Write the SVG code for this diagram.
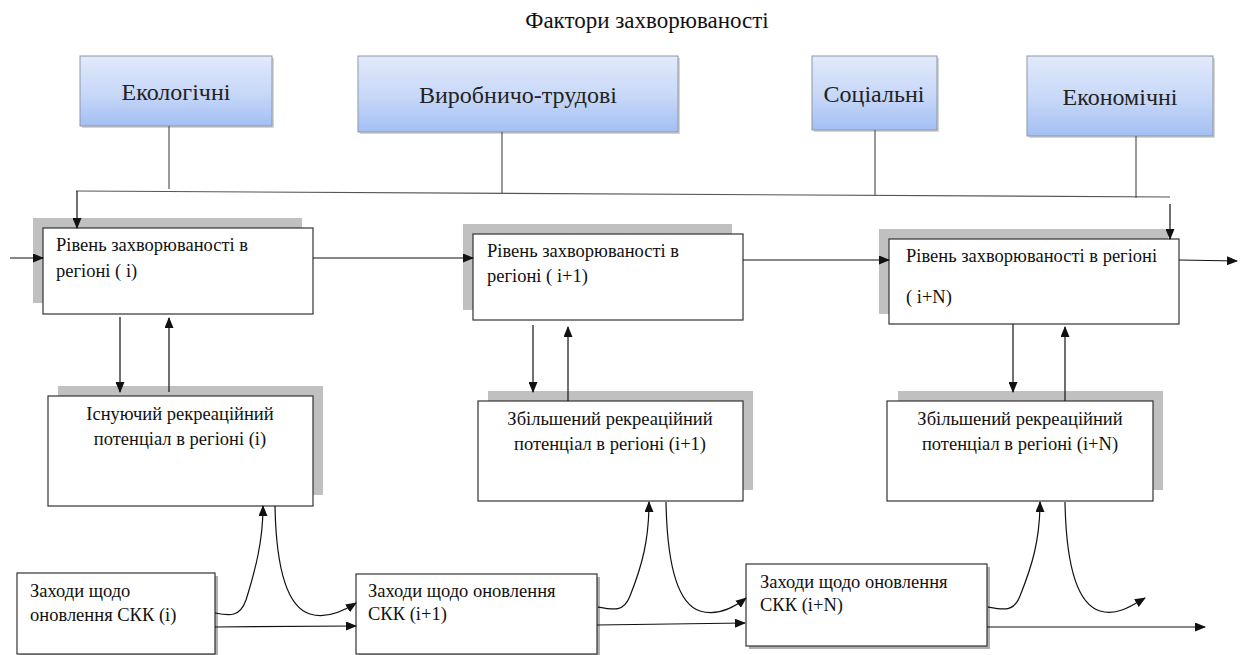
<svg xmlns="http://www.w3.org/2000/svg" width="1242" height="655" viewBox="0 0 1242 655">
  <defs>
    <linearGradient id="factorFill" x1="0" y1="0" x2="0" y2="1">
      <stop offset="0" stop-color="#e2eafb"/>
      <stop offset="0.55" stop-color="#c6d7f8"/>
      <stop offset="1" stop-color="#a3bff3"/>
    </linearGradient>
    <marker id="arrow" markerUnits="userSpaceOnUse" markerWidth="11" markerHeight="9" refX="10" refY="4.5" orient="auto">
      <path d="M0,0 L11,4.5 L0,9 z" fill="#111"/>
    </marker>
    <style>
      text { font-family: 'Liberation Serif', 'Times New Roman', 'DejaVu Serif', serif; }
      .title { font-size: 23px; fill: #111; }
      .factor rect.body { fill: url(#factorFill); stroke: #8d96a3; stroke-width: 1; }
      .factor rect.drop { fill: #b9b9b9; opacity: 0.6; }
      .factor text { font-size: 24px; fill: #222; text-anchor: middle; }
      .box { fill: #ffffff; stroke: #333; stroke-width: 1.2; }
      .shadow { fill: #c0c0c0; }
      .thin-shadow { fill: #b0b0b0; }
      .label { font-size: 18.5px; fill: #111; }
      .label.mid { text-anchor: middle; }
      .link { fill: none; stroke: #111; stroke-width: 1.2; }
      .link.arr { marker-end: url(#arrow); }
      .feed { fill: none; stroke: #555; stroke-width: 1.2; }
    </style>
  </defs>

  <rect width="1242" height="655" fill="#ffffff"/>

  <text class="title" x="647" y="28" text-anchor="middle">Фактори захворюваності</text>

  <!-- factor boxes -->
  <g id="factor-ecological" class="factor">
    <rect class="drop" x="82" y="58" width="192" height="70"/>
    <rect class="body" x="80" y="56" width="192" height="70"/>
    <text x="176" y="100">Екологічні</text>
  </g>
  <g id="factor-production" class="factor">
    <rect class="drop" x="360" y="58" width="320" height="76"/>
    <rect class="body" x="358" y="56" width="320" height="76"/>
    <text x="518" y="103">Виробничо-трудові</text>
  </g>
  <g id="factor-social" class="factor">
    <rect class="drop" x="814" y="58" width="125" height="74"/>
    <rect class="body" x="812" y="56" width="125" height="74"/>
    <text x="874" y="102">Соціальні</text>
  </g>
  <g id="factor-economic" class="factor">
    <rect class="drop" x="1029" y="58" width="186" height="80"/>
    <rect class="body" x="1027" y="56" width="186" height="80"/>
    <text x="1120" y="105">Економічні</text>
  </g>

  <!-- morbidity level per region -->
  <g id="morbidity-i">
    <rect class="shadow" x="33" y="218" width="269" height="85"/>
    <rect class="box" x="43" y="228" width="270" height="86"/>
    <text class="label" x="56" y="251">Рівень захворюваності в</text>
    <text class="label" x="56" y="277">регіоні ( і)</text>
  </g>
  <g id="morbidity-i1">
    <rect class="shadow" x="463" y="224" width="269" height="86"/>
    <rect class="box" x="473" y="234" width="270" height="86"/>
    <text class="label" x="487" y="257">Рівень захворюваності в</text>
    <text class="label" x="487" y="282">регіоні ( і+1)</text>
  </g>
  <g id="morbidity-iN">
    <rect class="shadow" x="879" y="229" width="289" height="85"/>
    <rect class="box" x="889" y="239" width="290" height="85"/>
    <text class="label" x="906" y="262">Рівень захворюваності в регіоні</text>
    <text class="label" x="906" y="303">( і+N)</text>
  </g>

  <!-- recreational potential per region -->
  <g id="potential-i">
    <rect class="shadow" x="58" y="386" width="265" height="109"/>
    <rect class="box" x="48" y="396" width="265" height="110"/>
    <text class="label mid" x="180" y="420">Існуючий рекреаційний</text>
    <text class="label mid" x="180" y="445">потенціал в регіоні (і)</text>
  </g>
  <g id="potential-i1">
    <rect class="shadow" x="488" y="391" width="265" height="99"/>
    <rect class="box" x="478" y="401" width="265" height="100"/>
    <text class="label mid" x="610" y="425">Збільшений рекреаційний</text>
    <text class="label mid" x="610" y="450">потенціал в регіоні (і+1)</text>
  </g>
  <g id="potential-iN">
    <rect class="shadow" x="898" y="391" width="265" height="99"/>
    <rect class="box" x="887" y="401" width="266" height="100"/>
    <text class="label mid" x="1020" y="425">Збільшений рекреаційний</text>
    <text class="label mid" x="1020" y="450">потенціал в регіоні (і+N)</text>
  </g>

  <!-- renewal measures -->
  <g id="measures-i">
    <rect class="thin-shadow" x="20" y="576" width="198" height="81"/>
    <rect class="box" x="17" y="573" width="198" height="81"/>
    <text class="label" x="30" y="597">Заходи щодо</text>
    <text class="label" x="30" y="621">оновлення СКК (і)</text>
  </g>
  <g id="measures-i1">
    <rect class="thin-shadow" x="359" y="577" width="241" height="80"/>
    <rect class="box" x="356" y="574" width="241" height="80"/>
    <text class="label" x="368" y="597">Заходи щодо оновлення</text>
    <text class="label" x="368" y="620">СКК (і+1)</text>
  </g>
  <g id="measures-iN">
    <rect class="thin-shadow" x="749" y="567" width="241" height="82"/>
    <rect class="box" x="746" y="564" width="241" height="82"/>
    <text class="label" x="760" y="588">Заходи щодо оновлення</text>
    <text class="label" x="760" y="611">СКК (і+N)</text>
  </g>

  <g id="connectors">
    <!-- factor bus -->
    <line class="feed" x1="169" y1="126" x2="169" y2="189"/>
    <line class="feed" x1="502" y1="132" x2="502" y2="193"/>
    <line class="feed" x1="875" y1="130" x2="875" y2="195"/>
    <line class="feed" x1="1136" y1="136" x2="1136" y2="198"/>
    <path class="feed" d="M76,191 L1170,197"/>
    <path class="link arr" d="M77,191 L77,228"/>
    <path class="link arr" d="M1170,204 L1170,239"/>

    <!-- chain of morbidity levels -->
    <path class="link arr" d="M10,258 L43,258"/>
    <path class="link arr" d="M313,258 L473,258"/>
    <path class="link arr" d="M743,260 L889,260"/>
    <path class="link arr" d="M1179,260 L1237,261"/>

    <!-- morbidity / potential exchange -->
    <path class="link arr" d="M120,317 L120,392"/>
    <path class="link arr" d="M169,392 L169,318"/>
    <path class="link arr" d="M533,325 L533,392"/>
    <path class="link arr" d="M568,401 L568,327"/>
    <path class="link arr" d="M1013,324 L1013,392"/>
    <path class="link arr" d="M1065,401 L1065,327"/>

    <!-- measures to potential and onward -->
    <path class="link arr" d="M215,613 C230,616 240,617 246,600 C256,568 263,540 263,506"/>
    <path class="link arr" d="M275,506 C276,560 284,606 310,614 C326,619 342,612 356,603"/>
    <path class="link arr" d="M215,627 L356,626"/>

    <path class="link arr" d="M598,607 C614,610 624,612 630,596 C642,566 649,540 649,502"/>
    <path class="link arr" d="M666,502 C667,556 675,603 700,611 C716,616 732,609 746,598"/>
    <path class="link arr" d="M597,625 L745,623"/>

    <path class="link arr" d="M988,607 C1004,610 1014,612 1020,596 C1032,566 1040,540 1040,502"/>
    <path class="link arr" d="M1065,502 C1066,556 1074,603 1100,611 C1116,616 1130,607 1145,598"/>
    <path class="link arr" d="M987,627 L1205,627"/>
  </g>
</svg>
